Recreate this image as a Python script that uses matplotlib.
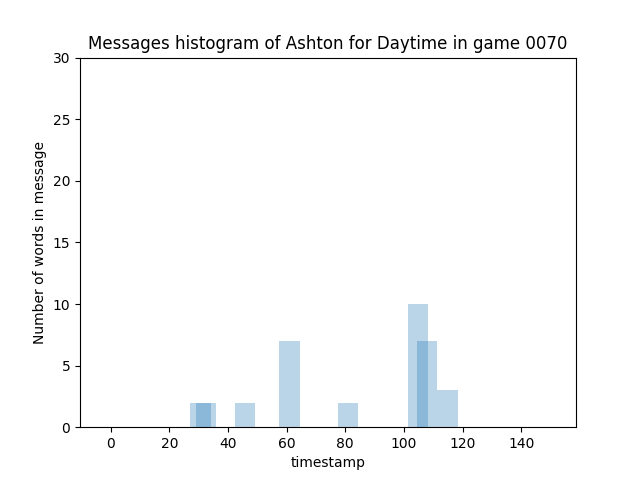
import matplotlib
matplotlib.use("Agg")
import matplotlib.pyplot as plt

timestamps = [30.7, 32.6, 45.9, 61.0, 80.9, 104.8, 107.9, 114.9]
words = [2, 2, 2, 7, 2, 10, 7, 3]

fig, ax = plt.subplots(figsize=(6.4, 4.8), dpi=100)
ax.bar(timestamps, words, width=7, color="#1f77b4", alpha=0.3)
ax.set_xlim(-10.45, 158.7)
ax.set_ylim(0, 30)
ax.set_xlabel("timestamp")
ax.set_ylabel("Number of words in message")
ax.set_title("Messages histogram of Ashton for Daytime in game 0070")
fig.savefig("out.png")
